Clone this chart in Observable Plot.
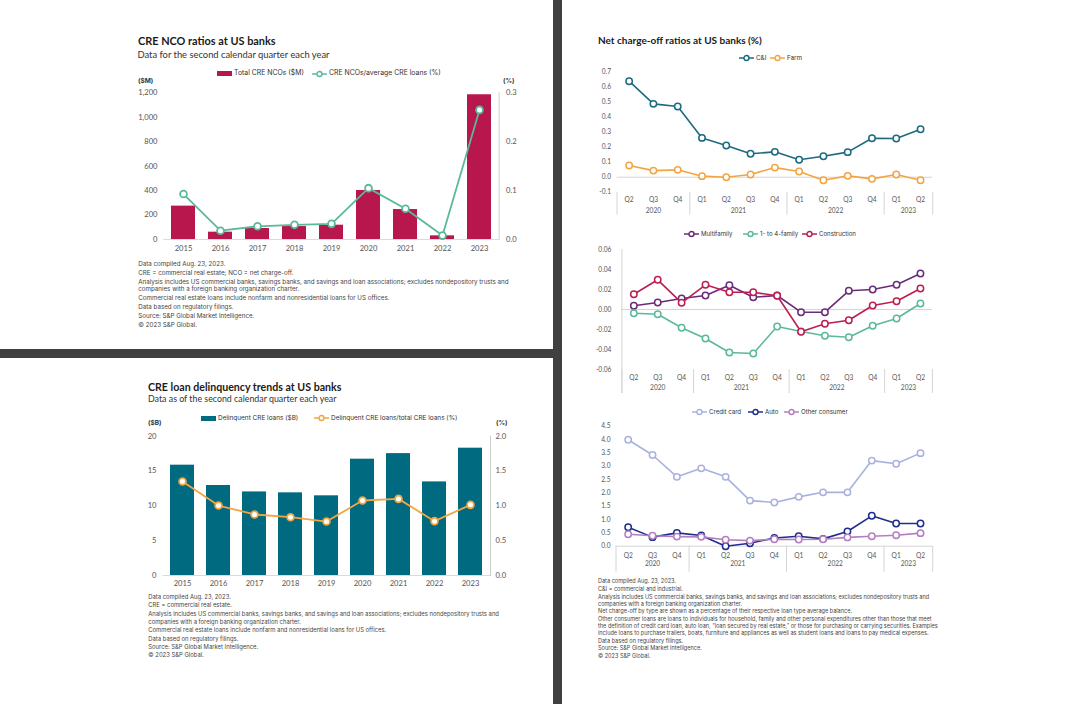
<!DOCTYPE html>
<html><head><meta charset="utf-8">
<script src="https://cdn.jsdelivr.net/npm/d3@7"></script>
<script src="https://cdn.jsdelivr.net/npm/@observablehq/plot@0.6"></script>
<style>
body{margin:0;width:1091px;height:704px;position:relative;background:#fff;font-family:Lato,"Liberation Sans",sans-serif;color:#222;overflow:hidden}
.abs{position:absolute;white-space:nowrap;line-height:1}
.title{font-weight:700;font-size:11px;color:#1a1a1a}
.sub{font-size:8.8px;color:#333}
.unit{font-size:6.5px;font-weight:700;color:#333;font-family:Inter,Lato,sans-serif}
.note{color:#444;font-family:Inter,Lato,sans-serif}
.note div{white-space:nowrap}
.lg{display:flex;align-items:center;color:#333;font-family:Inter,Lato,sans-serif}
.lg svg{margin-right:2px;flex:none}
</style></head>
<body>
<div class="abs" style="left:0;top:349px;width:553px;height:9px;background:#404040"></div>
<div class="abs" style="left:553px;top:0;width:9px;height:704px;background:#404040"></div>
<script>
const FONT = "Lato, 'Liberation Sans', sans-serif";

// ---------------- data ----------------
const years = ["2015","2016","2017","2018","2019","2020","2021","2022","2023"];
const creNcoTotal = [273, 60, 90, 106, 117, 401, 245, 30, 1184];
const creNcoRatio = [0.093, 0.018, 0.027, 0.030, 0.032, 0.105, 0.063, 0.008, 0.265];
const ncoLeftTicks = [0, 200, 400, 600, 800, 1000, 1200];
const ncoRightTicks = [0, 0.1, 0.2, 0.3];

const delinqTotal = [15.84, 12.92, 12.0, 11.87, 11.44, 16.7, 17.5, 13.44, 18.28];
const delinqRatio = [1.35, 1.005, 0.876, 0.837, 0.775, 1.077, 1.10, 0.78, 1.014];
const delinqLeftTicks = [0, 5, 10, 15, 20];
const delinqRightTicks = [0, 0.5, 1.0, 1.5, 2.0];

const quarterLabels = ["Q2","Q3","Q4","Q1","Q2","Q3","Q4","Q1","Q2","Q3","Q4","Q1","Q2"];
const quarterYears = ["2020","2020","2020","2021","2021","2021","2021","2022","2022","2022","2022","2023","2023"];

const ciRatio = [0.64, 0.489, 0.471, 0.262, 0.211, 0.156, 0.169, 0.116, 0.14, 0.167, 0.26, 0.258, 0.32];
const farmRatio = [0.078, 0.044, 0.049, 0.007, 0.0, 0.018, 0.064, 0.038, -0.02, 0.009, -0.011, 0.018, -0.02];
const ciTicks = [-0.1, 0, 0.1, 0.2, 0.3, 0.4, 0.5, 0.6, 0.7];

const multifamilyRatio = [0.0037, 0.007, 0.011, 0.014, 0.0243, 0.0123, 0.014, -0.0027, -0.0027, 0.0187, 0.02, 0.0247, 0.036];
const oneToFourRatio = [-0.0037, -0.0047, -0.0183, -0.029, -0.043, -0.044, -0.017, -0.022, -0.0263, -0.0277, -0.0163, -0.009, 0.006];
const constructionRatio = [0.0153, 0.0297, 0.0067, 0.0247, 0.0173, 0.0173, 0.0137, -0.0223, -0.0143, -0.0107, 0.004, 0.0083, 0.021];
const reTicks = [-0.06, -0.04, -0.02, 0, 0.02, 0.04, 0.06];

const creditCardRatio = [3.99, 3.42, 2.6, 2.92, 2.6, 1.71, 1.64, 1.85, 2.02, 2.02, 3.21, 3.09, 3.49];
const autoRatio = [0.71, 0.34, 0.5, 0.4, 0.0, 0.11, 0.31, 0.375, 0.275, 0.55, 1.14, 0.85, 0.85];
const otherConsumerRatio = [0.45, 0.39, 0.36, 0.35, 0.24, 0.21, 0.26, 0.25, 0.26, 0.33, 0.375, 0.41, 0.49];
const consumerTicks = [0, 0.5, 1.0, 1.5, 2.0, 2.5, 3.0, 3.5, 4.0, 4.5];

// ---------------- colors ----------------
const C = {
  nco: "#b8174e", ncoLine: "#5bb99b",
  del: "#006a80", delLine: "#f2a541",
  ci: "#1d6a80", farm: "#f2a541",
  multi: "#6b2a7c", oneFour: "#5bb99b", constr: "#bd1e50",
  card: "#a9b2de", auto: "#1f2d8c", other: "#b47fc1",
  grid: "#d4d4d4", tick: "#555"
};

// ---------------- helpers ----------------
function put(node, left, top) {
  node.style.position = "absolute";
  node.style.left = left + "px";
  node.style.top = top + "px";
  document.body.appendChild(node);
  return node;
}
function fit(el, target) {
  const w = el.getBoundingClientRect().width;
  const fs = parseFloat(getComputedStyle(el).fontSize);
  if (w > 0) el.style.fontSize = (fs * target / w) + "px";
  return parseFloat(el.style.fontSize);
}
function textDiv(cls, html, left, top, target) {
  const d = document.createElement("div");
  d.className = "abs " + cls;
  d.innerHTML = html;
  put(d, left, top);
  if (target) fit(d, target);
  return d;
}
function swatch(type, color) {
  if (type === "bar") return `<svg width="15" height="7"><rect x="0" y="1" width="15" height="5" fill="${color}"/></svg>`;
  return `<svg width="15" height="8"><line x1="0" x2="15" y1="4" y2="4" stroke="${color}" stroke-width="1.5"/><circle cx="7.5" cy="4" r="2.5" fill="#fff" stroke="${color}" stroke-width="1.4"/></svg>`;
}
function legend(items, cy, fontSize, fitIndex, target) {
  const spans = [];
  for (const it of items) {
    const d = document.createElement("div");
    d.className = "abs lg";
    d.style.height = "8px";
    d.innerHTML = swatch(it.type, it.color) + `<span style="font-size:${fontSize}px">${it.label}</span>`;
    put(d, it.x, cy - 4);
    spans.push(d.querySelector("span"));
  }
  if (fitIndex != null) {
    const fs = fit(spans[fitIndex], target);
    spans.forEach(s => s.style.fontSize = fs + "px");
  }
}
function notes(paras, left, top, fontSize, lineH, gap, target) {
  const d = document.createElement("div");
  d.className = "abs note";
  d.style.fontSize = fontSize + "px";
  d.style.lineHeight = lineH + "px";
  d.innerHTML = paras.map(p => `<div style="margin-bottom:${gap}px">${p.join("<br>")}</div>`).join("");
  put(d, left, top);
  if (target) fit(d, target);
  return d;
}

function dualChart(o) {
  const rows = o.cats.map((c, i) => ({c, v: o.bars[i], r: o.ratios[i] * o.k}));
  return Plot.plot({
    width: o.width, height: o.height,
    marginLeft: o.ml, marginRight: o.mr, marginTop: o.mt, marginBottom: o.mb,
    style: {fontFamily: FONT, fontSize: "7.6px", color: C.tick, background: "transparent", overflow: "visible"},
    x: {type: "band", domain: o.cats, paddingInner: o.pad, paddingOuter: o.pad / 2},
    y: {domain: [0, o.yMax]},
    marks: [
      Plot.barY(rows, {x: "c", y: "v", fill: o.barColor}),
      Plot.ruleY([0], {stroke: "#dadada"}),
      Plot.frame({anchor: "right", stroke: "#cfcfcf"}),
      Plot.axisY({anchor: "left", ticks: o.leftTicks, tickFormat: o.leftFmt, tickSize: 0, tickPadding: o.lpad, label: null}),
      Plot.axisY({anchor: "right", ticks: o.rightTicks.map(t => t * o.k), tickFormat: d => (d / o.k).toFixed(1), tickSize: 0, tickPadding: o.rpad, label: null}),
      Plot.axisX({tickSize: 0, tickPadding: o.xpad, label: null}),
      Plot.line(rows, {x: "c", y: "r", stroke: o.lineColor, strokeWidth: 1.8}),
      Plot.dot(rows, {x: "c", y: "r", r: 3.4, fill: "#fff", stroke: o.lineColor, strokeWidth: 1.8})
    ]
  });
}

function lineChart(o) {
  const n = quarterLabels.length;
  const idx = d3.range(n);
  const groups = d3.groups(idx, i => quarterYears[i]).map(([year, is]) => ({year, first: d3.min(is), last: d3.max(is)}));
  const bounds = [...groups.map(g => g.first - 0.5), n - 0.5];
  const plotH = o.height - o.mt - o.mb;
  const marks = [
    Plot.ruleY([0], {stroke: C.grid}),
    Plot.ruleX(bounds, {stroke: C.grid, insetTop: plotH, insetBottom: -o.ext}),
    Plot.axisY({ticks: o.yTicks, tickFormat: o.yFmt, tickSize: 0, tickPadding: o.ypad, label: null}),
    Plot.axisX({ticks: idx, tickFormat: i => quarterLabels[i], tickSize: 0, tickPadding: o.xpad, label: null}),
    Plot.text(groups, {x: g => (g.first + g.last) / 2, frameAnchor: "bottom", dy: o.yrDy, text: "year", fill: C.tick})
  ];
  if (o.fullLeft) marks.push(Plot.ruleX([-0.5], {stroke: C.grid, insetBottom: -o.ext}));
  for (const s of o.series) {
    const rows = s.values.map((v, i) => ({i, v}));
    marks.push(Plot.line(rows, {x: "i", y: "v", stroke: s.color, strokeWidth: 1.6}));
    marks.push(Plot.dot(rows, {x: "i", y: "v", r: 3.2, fill: "#fff", stroke: s.color, strokeWidth: 1.5}));
  }
  return Plot.plot({
    width: o.width, height: o.height,
    marginLeft: o.ml, marginRight: o.mr, marginTop: o.mt, marginBottom: o.mb,
    style: {fontFamily: FONT, fontSize: "6.6px", color: C.tick, background: "transparent", overflow: "visible"},
    x: {type: "linear", domain: [-0.5, n - 0.5]},
    y: {domain: o.yDomain},
    marks
  });
}

// ---------------- top-left: CRE NCO ----------------
textDiv("title", "CRE NCO ratios at US banks", 138, 36, 137.7);
textDiv("sub", "Data for the second calendar quarter each year", 137.5, 50, 192);
legend([
  {type: "bar", color: C.nco, label: "Total CRE NCOs ($M)", x: 217},
  {type: "line", color: C.ncoLine, label: "CRE NCOs/average CRE loans (%)", x: 312}
], 73.5, 7, 1, 112);
textDiv("unit", "($M)", 138, 77.5);
textDiv("unit", "(%)", 503, 77.5);
put(dualChart({
  width: 400, height: 175, ml: 33.4, mr: 31.4, mt: 8.3, mb: 20,
  cats: years, bars: creNcoTotal, ratios: creNcoRatio, k: 4000, yMax: 1200,
  leftTicks: ncoLeftTicks, leftFmt: d3.format(","), rightTicks: ncoRightTicks,
  lpad: 6.4, rpad: 7, xpad: 6.5, pad: 0.35, barColor: C.nco, lineColor: C.ncoLine
}), 130, 84);
notes([
  ["Data compiled Aug. 23, 2023."],
  ["CRE = commercial real estate; NCO = net charge-off."],
  ["Analysis includes US commercial banks, savings banks, and savings and loan associations; excludes nondepository trusts and",
   "companies with a foreign banking organization charter."],
  ["Commercial real estate loans include nonfarm and nonresidential loans for US offices."],
  ["Data based on regulatory filings."],
  ["Source: S&amp;P Global Market Intelligence."],
  ["© 2023 S&amp;P Global."]
], 138.3, 259.8, 6, 7, 2, 371);

// ---------------- bottom-left: delinquency ----------------
textDiv("title", "CRE loan delinquency trends at US banks", 148, 382, 193.7);
textDiv("sub", "Data as of the second calendar quarter each year", 148, 395, 188.7);
legend([
  {type: "bar", color: C.del, label: "Delinquent CRE loans ($B)", x: 201},
  {type: "line", color: C.delLine, label: "Delinquent CRE loans/total CRE loans (%)", x: 314}
], 418.3, 7, 1, 126.7);
textDiv("unit", "($B)", 148, 419.5);
textDiv("unit", "(%)", 496, 419.5);
put(dualChart({
  width: 400, height: 167, ml: 32.5, mr: 40, mt: 7.7, mb: 20,
  cats: years, bars: delinqTotal, ratios: delinqRatio, k: 10, yMax: 20,
  leftTicks: delinqLeftTicks, leftFmt: d => d, rightTicks: delinqRightTicks,
  lpad: 6.5, rpad: 5, xpad: 4.8, pad: 0.34, barColor: C.del, lineColor: C.delLine
}), 130, 428);
notes([
  ["Data compiled Aug. 23, 2023."],
  ["CRE = commercial real estate."],
  ["Analysis includes US commercial banks, savings banks, and savings and loan associations; excludes nondepository trusts and"],
  ["companies with a foreign banking organization charter."],
  ["Commercial real estate loans include nonfarm and nonresidential loans for US offices."],
  ["Data based on regulatory filings."],
  ["Source: S&amp;P Global Market Intelligence."],
  ["© 2023 S&amp;P Global."]
], 148.3, 593.2, 6, 8.3, 0, 351.7);

// ---------------- right panel ----------------
const rt = textDiv("title", "Net charge-off ratios at US banks (%)", 598, 35);
rt.style.fontSize = "10px";
fit(rt, 164);

legend([
  {type: "line", color: C.ci, label: "C&amp;I", x: 739},
  {type: "line", color: C.farm, label: "Farm", x: 770}
], 57.7, 6.3);
put(lineChart({
  width: 350, height: 160, ml: 26.5, mr: 7.8, mt: 9.7, mb: 30.3,
  yDomain: [-0.1, 0.7], yTicks: ciTicks, yFmt: d => d.toFixed(1), ypad: 6, xpad: 5.2, yrDy: 21, ext: 23,
  series: [{values: ciRatio, color: C.ci}, {values: farmRatio, color: C.farm}]
}), 590, 62);

legend([
  {type: "line", color: C.multi, label: "Multifamily", x: 684},
  {type: "line", color: C.oneFour, label: "1- to 4-family", x: 743},
  {type: "line", color: C.constr, label: "Construction", x: 802}
], 234.3, 6.3, 2, 37);
put(lineChart({
  width: 350, height: 160, ml: 31.4, mr: 8.1, mt: 9, mb: 31,
  yDomain: [-0.06, 0.06], yTicks: reTicks, yFmt: d => d.toFixed(2), ypad: 10.5, xpad: 6.3, yrDy: 20.3, ext: 24,
  fullLeft: true,
  series: [{values: multifamilyRatio, color: C.multi}, {values: oneToFourRatio, color: C.oneFour}, {values: constructionRatio, color: C.constr}]
}), 590, 240);

legend([
  {type: "line", color: C.card, label: "Credit card", x: 692},
  {type: "line", color: C.auto, label: "Auto", x: 748},
  {type: "line", color: C.other, label: "Other consumer", x: 784}
], 411.7, 6.3, 2, 46.7);
put(lineChart({
  width: 350, height: 162, ml: 25.5, mr: 7.8, mt: 9.7, mb: 32.3,
  yDomain: [0, 4.5], yTicks: consumerTicks, yFmt: d => d.toFixed(1), ypad: 5.5, xpad: 7, yrDy: 20, ext: 26,
  series: [{values: creditCardRatio, color: C.card}, {values: autoRatio, color: C.auto}, {values: otherConsumerRatio, color: C.other}]
}), 590, 416);

notes([
  ["Data compiled Aug. 23, 2023."],
  ["C&amp;I = commercial and industrial."],
  ["Analysis includes US commercial banks, savings banks, and savings and loan associations; excludes nondepository trusts and",
   "companies with a foreign banking organization charter."],
  ["Net charge-off by type are shown as a percentage of their respective loan type average balance."],
  ["Other consumer loans are loans to individuals for household, family and other personal expenditures other than those that meet",
   "the definition of credit card loan, auto loan, \u201cloan secured by real estate,\u201d or those for purchasing or carrying securities. Examples",
   "include loans to purchase trailers, boats, furniture and appliances as well as student loans and loans to pay medical expenses."],
  ["Data based on regulatory filings."],
  ["Source: S&amp;P Global Market Intelligence."],
  ["© 2023 S&amp;P Global."]
], 598, 578.2, 5.2, 7, 0.7, 340);
</script>
</body></html>
